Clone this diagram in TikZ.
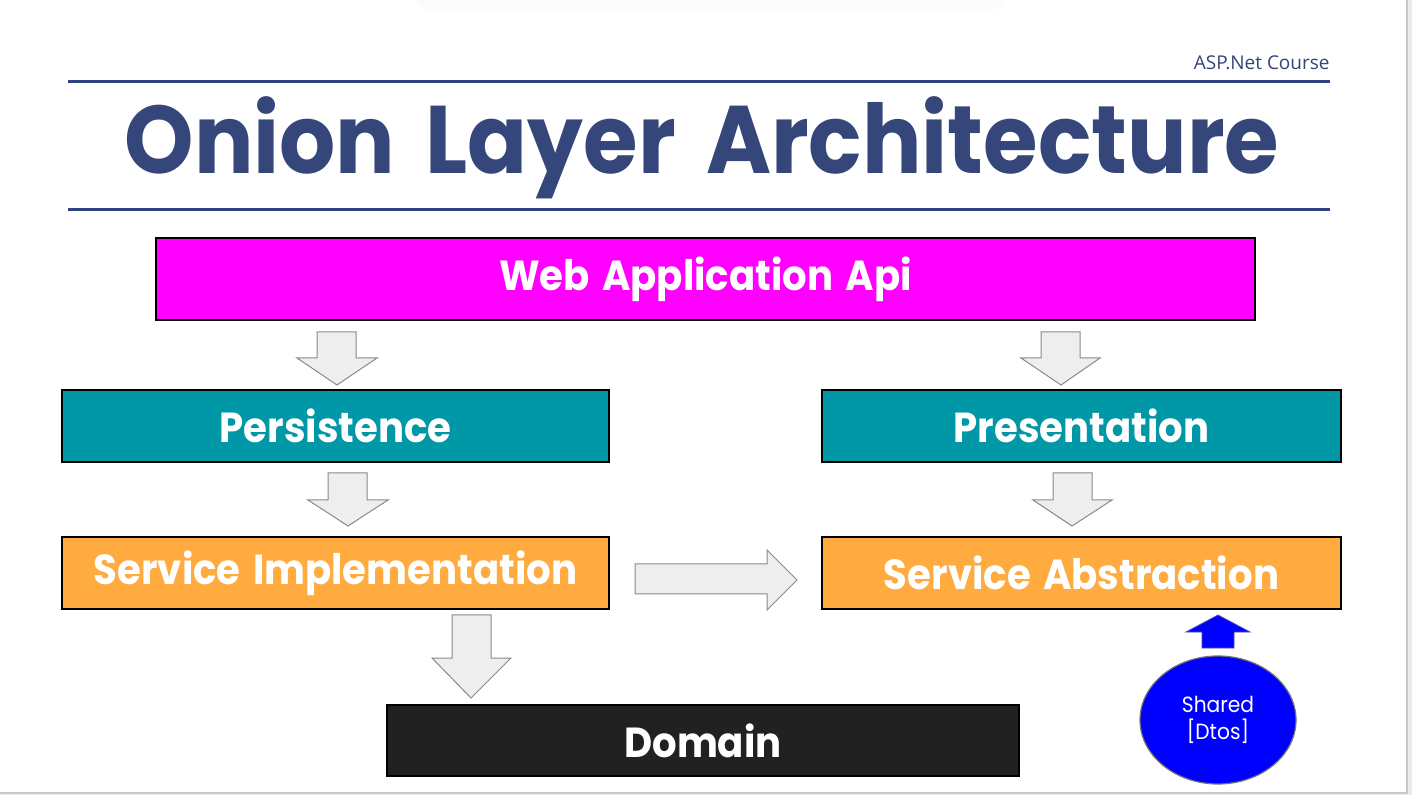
\documentclass[tikz,border=0pt]{standalone}
\usepackage{fontspec}
\setmainfont{Open Sans}
\newfontfamily\comic{Poppins}[FakeStretch=0.92]
\usetikzlibrary{shapes.geometric}
\definecolor{navy}{HTML}{34467A}
\definecolor{rulecol}{HTML}{2F4381}
\definecolor{magentabox}{HTML}{FF00FF}
\definecolor{tealbox}{HTML}{0097A7}
\definecolor{orangebox}{HTML}{FFAB40}
\definecolor{darkbox}{HTML}{212121}
\definecolor{arrowfill}{HTML}{EEEEEE}
\definecolor{arrowline}{HTML}{8A8A8A}
\tikzset{
  layer/.style={draw=black, line width=0.55pt, rectangle, inner sep=0pt,
    text=white, font=\comic\bfseries\fontsize{21}{25}\selectfont},
  garrow/.style={fill=arrowfill, draw=arrowline, line width=0.5pt, line join=miter},
  toprule/.style={draw=rulecol, line width=1.5pt},
}
\begin{document}
\begin{tikzpicture}[x=0.5pt,y=-0.5pt]
\useasboundingbox (0,0) rectangle (1412,795);
\fill[white] (0,0) rectangle (1412,795);
% page frame
\fill[black!8] (1407,0) rectangle (1412,795);
\fill[black!8] (0,793) rectangle (1412,795);
\draw[black!22, line width=0.8pt] (1407,0) -- (1407,793) -- (0,793);
\fill[black!1.5, rounded corners=10pt] (415,-20) rectangle (1005,12);
% header
\node[anchor=base east, text=navy, font=\fontsize{9.5}{11}\selectfont, inner sep=0pt] (course) at (1330,70) {ASP.Net Course};
\coordinate (l1a) at (68,82); \coordinate (l1b) at (1330,82);
\coordinate (l2a) at (68,210); \coordinate (l2b) at (1330,210);
\draw[toprule] (l1a) -- (l1b);
\draw[toprule] (l2a) -- (l2b);
\node[anchor=base, text=navy, inner sep=0pt, font=\comic\bfseries\fontsize{48}{56}\selectfont] (title) at (702,174) {Onion\hspace{0.12em} Layer\hspace{0.12em} Architecture};
% layers
\node[layer, fill=magentabox, minimum width=549.5pt, minimum height=41pt] (web) at (705.5,279) {Web\hspace{0.1em} Application\hspace{0.1em} Api};
\node[layer, fill=tealbox, minimum width=273.5pt, minimum height=36pt] (pers) at (335.5,426) {Persistence};
\node[layer, fill=tealbox, minimum width=259.5pt, minimum height=36pt] (pres) at (1081.5,426) {Presentation};
\node[layer, fill=orangebox, minimum width=273.5pt, minimum height=36pt] (simpl) at (335.5,573) {Service\hspace{0.1em} Implementation};
\node[layer, fill=orangebox, minimum width=259.5pt, minimum height=36pt] (sabs) at (1081.5,573) {Service\hspace{0.1em} Abstraction};
\node[layer, fill=darkbox, minimum width=316pt, minimum height=35.5pt] (domain) at (703,740.5) {Domain};
\node[ellipse, fill=blue, draw=black!55, line width=0.6pt, minimum width=78pt, minimum height=64pt, inner sep=0pt,
  text=white, align=center, font=\comic\fontsize{11}{13.5}\selectfont] (shared) at (1218,720) {Shared\\{[Dtos]}};
% block arrows
\draw[garrow] (317,332) -- (356,332) -- (356,358) -- (377,358) -- (337,385) -- (297,358) -- (317,358) -- cycle;
\draw[garrow] (328,473) -- (367,473) -- (367,500) -- (388,500) -- (348,526) -- (308,500) -- (328,500) -- cycle;
\draw[garrow] (1041,332) -- (1080,332) -- (1080,358) -- (1100,358) -- (1061,385) -- (1021,358) -- (1041,358) -- cycle;
\draw[garrow] (1053,473) -- (1092,473) -- (1092,500) -- (1112,500) -- (1072,526) -- (1033,500) -- (1053,500) -- cycle;
\draw[garrow] (452,615) -- (491,615) -- (491,658) -- (511,658) -- (471,698) -- (432,658) -- (452,658) -- cycle;
\draw[garrow] (635,564) -- (767,564) -- (767,550) -- (797,580) -- (767,610) -- (767,594) -- (635,594) -- cycle;
\draw[fill=blue, draw=blue!60!black!70, line width=0.4pt] (1202,648) -- (1202,632) -- (1186,632) -- (1218,615) -- (1250,632) -- (1234,632) -- (1234,648) -- cycle;
\end{tikzpicture}
\end{document}
